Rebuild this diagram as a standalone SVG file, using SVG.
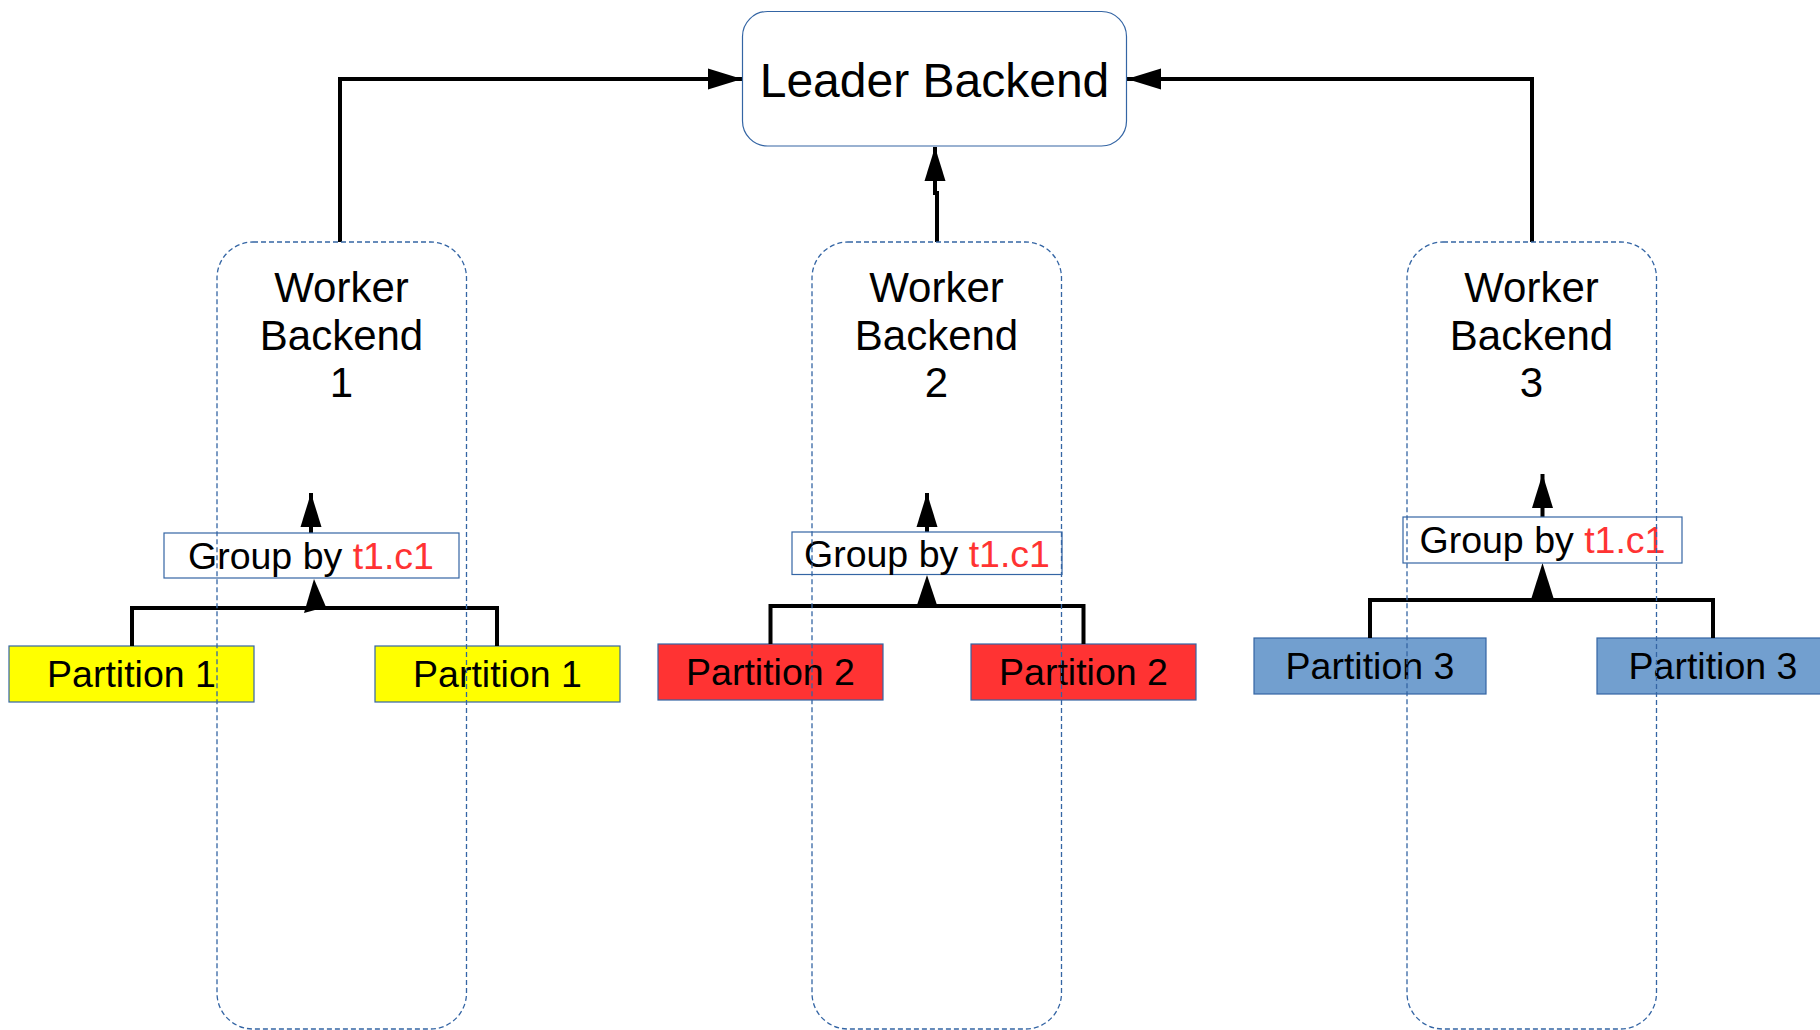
<svg xmlns="http://www.w3.org/2000/svg" width="1820" height="1030" viewBox="0 0 1820 1030">
  <style>
    text { font-family: "Liberation Sans", Arial, sans-serif; fill: #000; text-anchor: middle; }
    .leader { fill: #fff; stroke: #3465a4; stroke-width: 1.2; }
    .worker { fill: none; stroke: #3465a4; stroke-width: 1.3; stroke-dasharray: 5 3; }
    .grp { fill: #fff; stroke: #3465a4; stroke-width: 1.2; }
    .p1 { fill: #ffff00; stroke: #3465a4; stroke-width: 1.2; }
    .p2 { fill: #ff3333; stroke: #3465a4; stroke-width: 1.2; }
    .p3 { fill: #729fcf; stroke: #3465a4; stroke-width: 1.2; }
    .edge { fill: none; stroke: #000; stroke-width: 4; stroke-linejoin: miter; }
    .head { fill: #000; }
    .wt { font-size: 42px; }
    .gt { font-size: 37.5px; }
    .pt { font-size: 37.5px; }
    .key { fill: #ff3333; }
  </style>
  <defs>
    <marker id="arrow" markerUnits="userSpaceOnUse" markerWidth="36" markerHeight="24" refX="34" refY="12" orient="auto" viewBox="0 0 36 24">
      <path d="M0 1.5 L34 12 L0 22.5 Z" fill="#000"/>
    </marker>
  </defs>

  <!-- partition tiles -->
  <g id="partition-1a"><rect class="p1" x="9" y="646" width="245" height="56"/><text class="pt" x="131.5" y="687">Partition 1</text></g>
  <g id="partition-1b"><rect class="p1" x="375" y="646" width="245" height="56"/><text class="pt" x="497.5" y="687">Partition 1</text></g>
  <g id="partition-2a"><rect class="p2" x="658" y="644" width="225" height="56"/><text class="pt" x="770.5" y="685">Partition 2</text></g>
  <g id="partition-2b"><rect class="p2" x="971" y="644" width="225" height="56"/><text class="pt" x="1083.5" y="685">Partition 2</text></g>
  <g id="partition-3a"><rect class="p3" x="1254" y="638" width="232" height="56"/><text class="pt" x="1370" y="679">Partition 3</text></g>
  <g id="partition-3b"><rect class="p3" x="1597" y="638" width="232" height="56"/><text class="pt" x="1713" y="679">Partition 3</text></g>

  <!-- connectors -->
  <g id="connectors">
    <path class="edge" d="M340 242 V79 H742" marker-end="url(#arrow)"/>
    <path class="edge" d="M1532 242 V79 H1127" marker-end="url(#arrow)"/>
    <path class="edge" d="M937 242 V193 H935 V147" marker-end="url(#arrow)"/>

    <path class="edge" d="M311 533 V493" marker-end="url(#arrow)"/>
    <path class="edge" d="M927 532 V493" marker-end="url(#arrow)"/>
    <path class="edge" d="M1542.5 517 V474" marker-end="url(#arrow)"/>

    <path class="edge" d="M132 646 V608 H497 V646"/>
    <polygon class="head" points="314,579 304,613 326,607"/>
    <path class="edge" d="M770.5 644 V606 H1083.5 V644"/>
    <polygon class="head" points="927,575 916,608 938,608"/>
    <path class="edge" d="M1370 638 V600 H1713 V638"/>
    <polygon class="head" points="1542.5,563 1531.5,598 1553.5,598"/>
  </g>

  <!-- aggregation boxes -->
  <g id="group-1"><rect class="grp" x="164" y="533" width="295" height="45"/><text class="gt" x="311" y="569">Group by <tspan class="key">t1.c1</tspan></text></g>
  <g id="group-2"><rect class="grp" x="792" y="532" width="270" height="42.5"/><text class="gt" x="927" y="567">Group by <tspan class="key">t1.c1</tspan></text></g>
  <g id="group-3"><rect class="grp" x="1403" y="517" width="279" height="46"/><text class="gt" x="1542.5" y="553">Group by <tspan class="key">t1.c1</tspan></text></g>

  <!-- leader -->
  <g id="leader"><rect class="leader" x="742.5" y="11.5" width="384" height="134.5" rx="25"/><text x="934.5" y="96.5" font-size="48">Leader Backend</text></g>

  <!-- worker containers -->
  <g id="worker-1"><rect class="worker" x="217" y="242" width="249.5" height="787" rx="36"/>
    <text class="wt" x="341.5" y="302">Worker</text><text class="wt" x="341.5" y="349.5">Backend</text><text class="wt" x="341.5" y="397">1</text></g>
  <g id="worker-2"><rect class="worker" x="812" y="242" width="249.5" height="787" rx="36"/>
    <text class="wt" x="936.5" y="302">Worker</text><text class="wt" x="936.5" y="349.5">Backend</text><text class="wt" x="936.5" y="397">2</text></g>
  <g id="worker-3"><rect class="worker" x="1407" y="242" width="249.5" height="787" rx="36"/>
    <text class="wt" x="1531.5" y="302">Worker</text><text class="wt" x="1531.5" y="349.5">Backend</text><text class="wt" x="1531.5" y="397">3</text></g>
</svg>
